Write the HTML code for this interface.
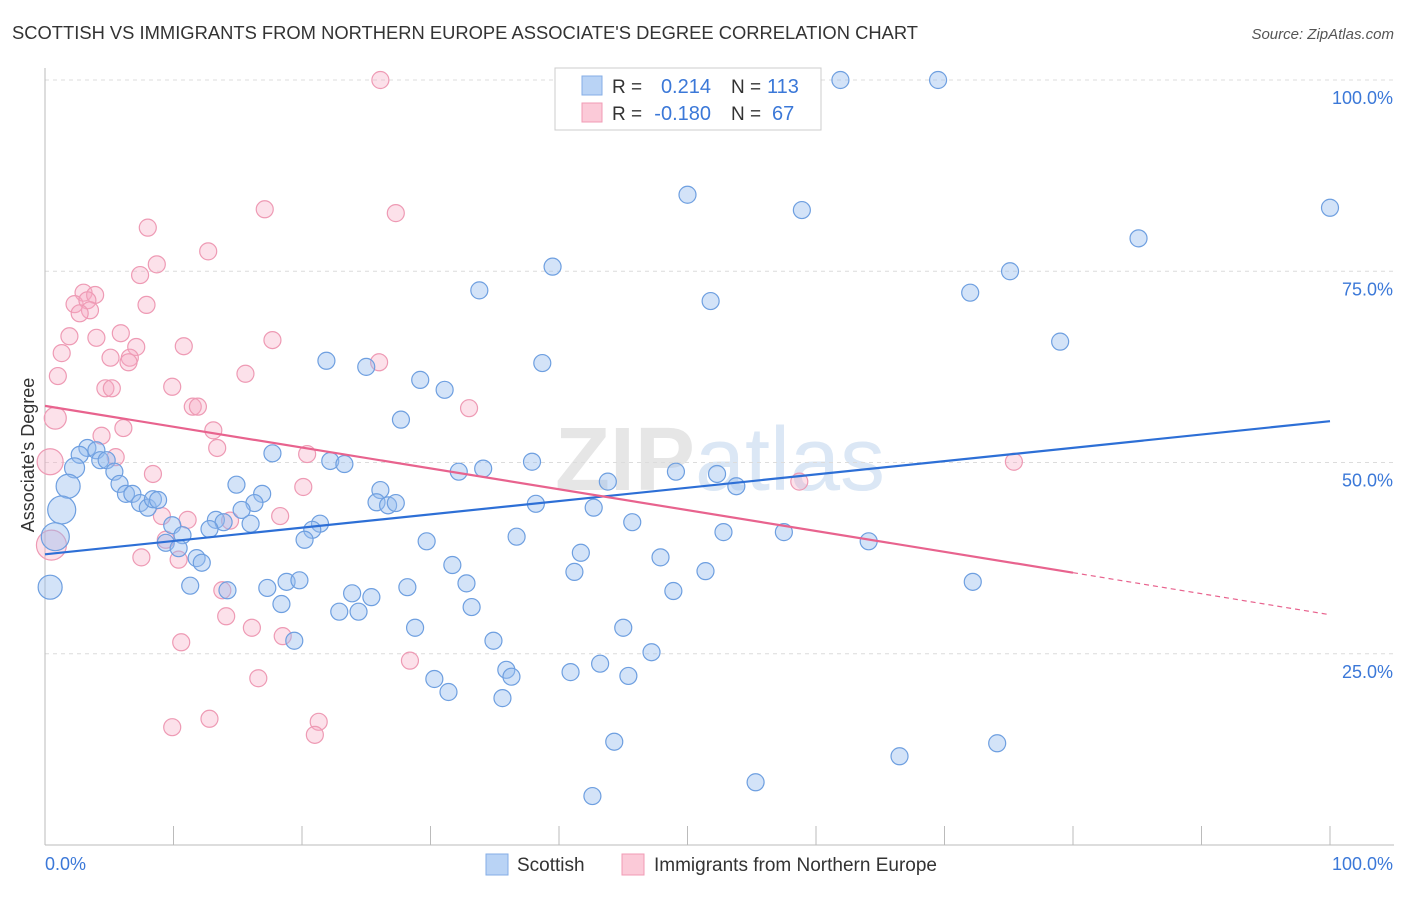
<!DOCTYPE html>
<html><head><meta charset="utf-8"><style>
body{margin:0;background:#fff;font-family:"Liberation Sans",sans-serif;}
svg text{font-family:"Liberation Sans",sans-serif;}
</style></head><body>
<svg id="chart" width="1406" height="892" viewBox="0 0 1406 892" xmlns="http://www.w3.org/2000/svg">
<text x="12" y="39" font-size="18" fill="#333" textLength="906" lengthAdjust="spacingAndGlyphs">SCOTTISH VS IMMIGRANTS FROM NORTHERN EUROPE ASSOCIATE'S DEGREE CORRELATION CHART</text>
<text x="1394" y="39" font-size="15" fill="#555" font-style="italic" text-anchor="end">Source: ZipAtlas.com</text>
<text x="720" y="490" font-size="90" fill="#e4e8ee" text-anchor="middle" font-family="Liberation Serif"><tspan font-weight="bold" fill="#e6e6e6">ZIP</tspan><tspan fill="#dbe7f5">atlas</tspan></text>
<g id="grid"></g>
<g id="axes"></g>
<g id="pts"></g>
<g id="lines"></g>
<text transform="translate(34,455) rotate(-90)" font-size="18" fill="#333" text-anchor="middle">Associate's Degree</text>
<g>
<rect x="555" y="68" width="266" height="62" fill="#fff" stroke="#ccc"/>
<rect x="582" y="76" width="20" height="19" fill="#b9d3f5" stroke="#85aee6"/>
<rect x="582" y="103" width="20" height="19" fill="#fbcad8" stroke="#f09bb5"/>
<text x="612" y="93" font-size="19" fill="#333">R =</text><text x="711" y="93" font-size="20" fill="#3b78d8" text-anchor="end">0.214</text>
<text x="731" y="93" font-size="19" fill="#333">N =</text><text x="767" y="93" font-size="20" fill="#3b78d8">113</text>
<text x="612" y="120" font-size="19" fill="#333">R =</text><text x="711" y="120" font-size="20" fill="#3b78d8" text-anchor="end">-0.180</text>
<text x="731" y="120" font-size="19" fill="#333">N =</text><text x="772" y="120" font-size="20" fill="#3b78d8">67</text>
</g>
<g>
<rect x="486" y="854" width="22" height="21" fill="#b9d3f5" stroke="#85aee6"/>
<text x="517" y="871" font-size="19" fill="#333">Scottish</text>
<rect x="622" y="854" width="22" height="21" fill="#fbcad8" stroke="#f09bb5"/>
<text x="654" y="871" font-size="19" fill="#333">Immigrants from Northern Europe</text>
</g>
</svg>
<script>
const yTicks=[25,50,75,100];
const yTickLabels=["25.0%","50.0%","75.0%","100.0%"];
const xTickCount=10;
const blueX=[61.9,69.5,50.0,58.9,100,85.1,39.5,75.1,33.8,51.8,72.0,79.0,21.9,25.0,38.7,29.2,31.1,27.7,17.7,22.2,23.3,37.9,32.2,34.1,49.1,52.3,53.8,43.8,3.3,2.7,4.0,2.3,4.3,4.8,5.4,1.8,1.3,0.4,0.8,5.8,6.3,6.8,7.4,8.0,8.4,8.8,14.9,16.9,16.3,15.3,13.3,13.9,16.0,12.8,9.9,10.7,9.4,10.4,11.8,12.2,21.4,20.8,20.2,26.1,25.8,26.7,27.3,38.2,42.7,45.7,36.7,29.7,41.7,52.8,57.5,64.1,47.9,31.7,41.2,51.4,11.3,14.2,17.3,18.8,19.8,23.9,25.4,28.2,32.8,48.9,72.2,18.4,22.9,24.4,33.2,28.8,45.0,34.9,19.4,47.2,35.9,36.3,40.9,43.2,45.4,30.3,31.4,35.6,44.3,66.5,74.1,55.3,42.6];
const blueY=[100,100,85.0,83.0,83.3,79.3,75.6,75.0,72.5,71.1,72.2,65.8,63.3,62.5,63.0,60.8,59.5,55.6,51.2,50.2,49.8,50.1,48.8,49.2,48.8,48.5,46.9,47.5,51.9,51.0,51.6,49.3,50.3,50.3,48.8,46.9,43.8,33.7,40.3,47.2,45.9,45.9,44.7,44.1,45.2,45.1,47.1,45.9,44.7,43.8,42.5,42.2,42.0,41.3,41.8,40.5,39.5,38.8,37.5,36.9,42.0,41.2,39.9,46.4,44.8,44.4,44.7,44.6,44.1,42.2,40.3,39.7,38.2,40.9,40.9,39.7,37.6,36.6,35.7,35.8,33.9,33.3,33.6,34.4,34.6,32.9,32.4,33.7,34.2,33.2,34.4,31.5,30.5,30.5,31.1,28.4,28.4,26.7,26.7,25.2,22.9,22.0,22.6,23.7,22.1,21.7,20.0,19.2,13.5,11.6,13.3,8.2,6.4];
const blueBig={31:10,35:12,36:14,37:12,38:14};
const pinkX=[26.1,17.1,27.3,8.0,12.7,8.7,7.4,3.0,3.9,2.3,3.3,3.5,2.7,7.9,1.9,4.0,5.9,7.1,1.3,5.1,6.6,6.5,10.8,17.7,26.0,1.0,9.9,15.6,4.7,5.2,11.5,11.9,33.0,0.8,6.1,13.1,4.4,13.4,0.4,20.4,5.5,8.4,75.4,58.7,20.1,9.1,11.1,18.3,14.4,9.4,0.5,7.5,10.4,13.8,14.1,16.1,18.5,10.6,28.4,16.6,9.9,12.8,21.3,21.0];
const pinkY=[100,83.1,82.6,80.7,77.6,75.9,74.5,72.2,71.9,70.7,71.2,69.9,69.5,70.6,66.5,66.3,66.9,65.1,64.3,63.7,63.7,63.1,65.2,66.0,63.1,61.3,59.9,61.6,59.7,59.7,57.3,57.3,57.1,55.8,54.5,54.2,53.5,51.9,50.1,51.1,50.7,48.5,50.1,47.5,46.8,43.0,42.5,43.0,42.4,39.9,39.2,37.6,37.3,33.3,29.9,28.4,27.3,26.5,24.1,21.8,15.4,16.5,16.1,14.4];
const pinkBig={33:11,38:13,50:15};
const blueTrend=[[0,38.0],[100,55.4]];
const pinkTrendSolid=[[0,57.4],[80,35.6]];
const pinkTrendDash=[[80,35.6],[100,30.1]];
const X0=45,X1=1330,Y0=845,Y100=80;
const sx=v=>X0+(X1-X0)*v/100, sy=v=>Y0-(Y0-Y100)*v/100;
const NS="http://www.w3.org/2000/svg";
function mk(tag,attrs,parent){const e=document.createElementNS(NS,tag);for(const k in attrs)e.setAttribute(k,attrs[k]);parent.appendChild(e);return e;}
const grid=document.getElementById('grid'),axes=document.getElementById('axes'),pts=document.getElementById('pts'),lines=document.getElementById('lines');
yTicks.forEach((t,i)=>{
 const l=mk('line',{x1:X0,x2:1394,y1:sy(t),y2:sy(t),stroke:'#dcdcdc','stroke-dasharray':'4,4'},grid);
 
 
 const tx=mk('text',{x:1393,y:sy(t)+24,'font-size':18,fill:'#3b78d8','text-anchor':'end'},axes);
 tx.textContent=yTickLabels[i];
 
 
});
const ya=mk('line',{x1:X0,x2:X0,y1:68,y2:Y0,stroke:'#bbb'},axes);


const xa=mk('line',{x1:X0,x2:1394,y1:Y0,y2:Y0,stroke:'#bbb'},axes);


for(let i=0;i<=xTickCount;i++){const x=sx(i*100/xTickCount);
 const t=mk('line',{x1:x,x2:x,y1:826,y2:Y0,stroke:'#bbb'},axes);
 
 }
const xl0=mk('text',{x:45,y:870,'font-size':18,fill:'#3b78d8'},axes);xl0.textContent='0.0%';


const xl1=mk('text',{x:1393,y:870,'font-size':18,fill:'#3b78d8','text-anchor':'end'},axes);xl1.textContent='100.0%';


pinkX.forEach((v,i)=>{const c=mk('circle',{cx:sx(v),cy:sy(pinkY[i]),r:pinkBig[i]||8.5,fill:'rgba(246,170,195,0.35)',stroke:'#ee9ab4','stroke-width':1.2},pts);
 
 });
blueX.forEach((v,i)=>{const c=mk('circle',{cx:sx(v),cy:sy(blueY[i]),r:blueBig[i]||8.5,fill:'rgba(150,188,238,0.42)',stroke:'#6e9fe0','stroke-width':1.2},pts);
 
 });
function seg(p,attrs,name){const l=mk('line',Object.assign({x1:sx(p[0][0]),y1:sy(p[0][1]),x2:sx(p[1][0]),y2:sy(p[1][1])},attrs),lines);
 
 }
seg(blueTrend,{stroke:'#2d6fd6','stroke-width':2.2},'trend-scottish');
seg(pinkTrendSolid,{stroke:'#e8638e','stroke-width':2.2},'trend-northern-europe');
seg(pinkTrendDash,{stroke:'#e8638e','stroke-width':1.2,'stroke-dasharray':'5,4'},'trend-northern-europe-extrapolated');
</script>
</body></html>
